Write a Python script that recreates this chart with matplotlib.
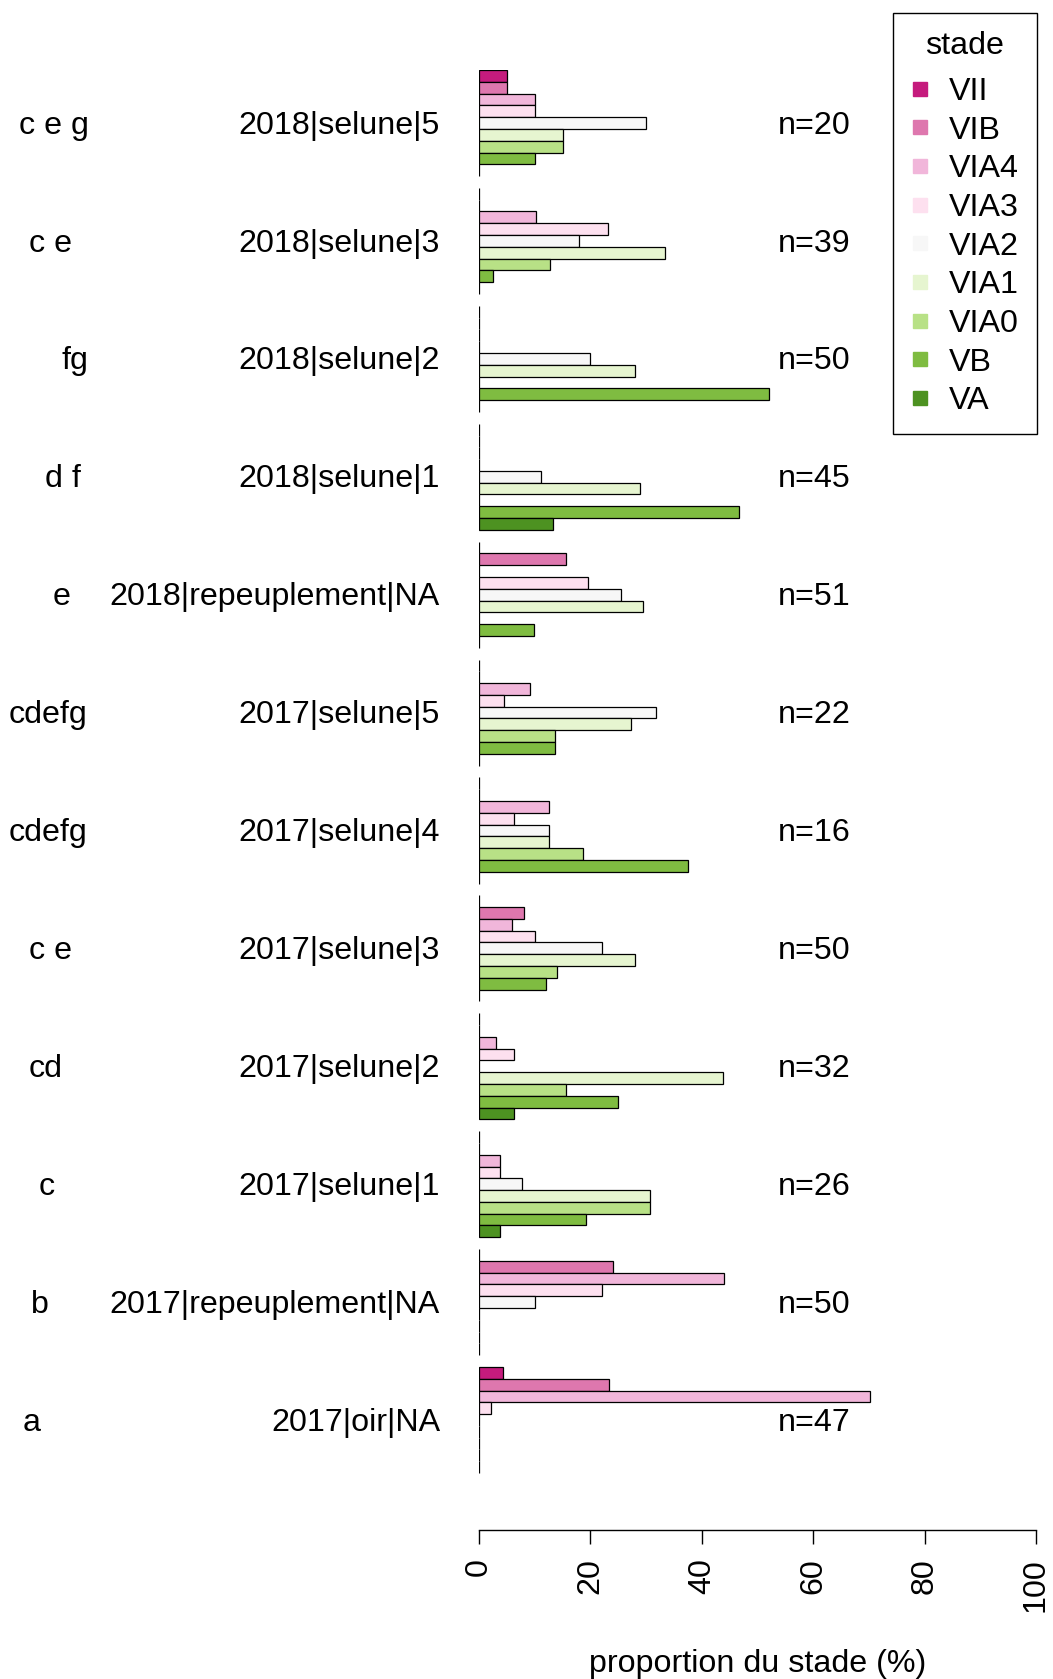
import matplotlib
matplotlib.use("Agg")
import matplotlib.pyplot as plt
import matplotlib.transforms as mtransforms
from matplotlib.lines import Line2D
import numpy as np

plt.rcParams['font.family'] = ['Liberation Sans', 'DejaVu Sans']

# stages, top to bottom inside each group
stades = ["VII", "VIB", "VIA4", "VIA3", "VIA2", "VIA1", "VIA0", "VB", "VA"]
colors = ["#c51b7d", "#de77ae", "#f1b6da", "#fde0ef", "#f7f7f7",
          "#e6f5d0", "#b8e186", "#7fbc41", "#4d9221"]

# groups, top to bottom
groups = ["2018|selune|5", "2018|selune|3", "2018|selune|2", "2018|selune|1",
          "2018|repeuplement|NA", "2017|selune|5", "2017|selune|4", "2017|selune|3",
          "2017|selune|2", "2017|selune|1", "2017|repeuplement|NA", "2017|oir|NA"]
letters = ["c e g", "c e", "fg", "d f", "e", "cdefg", "cdefg", "c e", "cd", "c", "b", "a"]
n_fish = [20, 39, 50, 45, 51, 22, 16, 50, 32, 26, 50, 47]

# counts per stage (VII ... VA) for each group
counts = [
    [1, 1, 2, 2, 6, 3, 3, 2, 0],
    [0, 0, 4, 9, 7, 13, 5, 1, 0],
    [0, 0, 0, 0, 10, 14, 0, 26, 0],
    [0, 0, 0, 0, 5, 13, 0, 21, 6],
    [0, 8, 0, 10, 13, 15, 0, 5, 0],
    [0, 0, 2, 1, 7, 6, 3, 3, 0],
    [0, 0, 2, 1, 2, 2, 3, 6, 0],
    [0, 4, 3, 5, 11, 14, 7, 6, 0],
    [0, 0, 1, 2, 0, 14, 5, 8, 2],
    [0, 0, 1, 1, 2, 8, 8, 5, 1],
    [0, 12, 22, 11, 5, 0, 0, 0, 0],
    [2, 11, 33, 1, 0, 0, 0, 0, 0],
]

# x position (figure px) of the letter labels
letter_x = [19, 29, 61, 45, 53, 9, 9, 29, 29, 39, 31, 23]

W, H = 1053, 1679
fig = plt.figure(figsize=(W / 100, H / 100), dpi=100)
ax = fig.add_axes([479 / W, (H - 1530) / H, (1036 - 479) / W, (1530 - 70) / H])

ng = len(groups)
fs = 23.2
for g in range(ng):
    k = ng - 1 - g
    pct = np.array(counts[g]) / n_fish[g] * 100
    ypos = 10 * k + 10 - np.arange(len(stades)) - 0.5
    ax.barh(ypos, pct, height=1, color=colors, edgecolor="black", linewidth=0.9)
    yc = 10 * k + 5.5
    ax.text(-0.07, yc - 0.9, groups[g], ha="right", va="baseline", fontsize=fs,
            transform=mtransforms.blended_transform_factory(ax.transAxes, ax.transData))
    ax.text(letter_x[g] / W, yc - 0.9, letters[g], ha="left", va="baseline", fontsize=fs,
            transform=mtransforms.blended_transform_factory(fig.transFigure, ax.transData))
    ax.text(53.7, yc - 0.9, "n=" + str(n_fish[g]), ha="left", va="baseline", fontsize=fs)

ax.set_xlim(0, 100)
ax.set_ylim(-3.83, 120)
for s in ["top", "right", "left"]:
    ax.spines[s].set_visible(False)
ax.spines["bottom"].set_linewidth(1)
ax.set_yticks([])
ax.set_xticks([0, 20, 40, 60, 80, 100])
ax.tick_params(axis="x", length=10, width=1, pad=10, labelsize=fs, labelrotation=90)
ax.set_xlabel("proportion du stade (%)", fontsize=fs, labelpad=27)

handles = [Line2D([], [], marker="s", linestyle="none", markersize=9.5,
                  markerfacecolor=c, markeredgecolor=c) for c in colors]
leg = fig.legend(handles, stades, title="stade", loc="upper right",
                 bbox_to_anchor=(1037 / W, 1 - 13 / H), fontsize=fs, title_fontsize=fs,
                 frameon=True, fancybox=False, edgecolor="black", framealpha=1,
                 handlelength=0.6, handletextpad=0.6, labelspacing=0.27,
                 borderpad=0.55, borderaxespad=0)
leg.get_frame().set_linewidth(1)
leg._legend_box.sep = 0.5 * fs  # wider gap under the title

fig.savefig("out.png", dpi=100)
